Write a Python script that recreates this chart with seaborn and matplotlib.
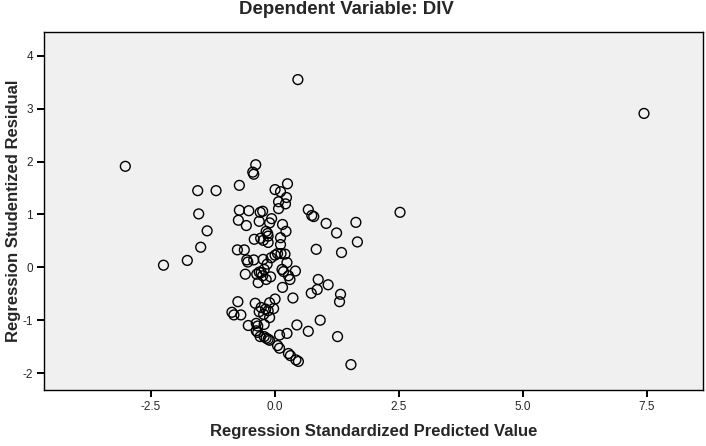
import matplotlib
matplotlib.use("Agg")
import matplotlib.pyplot as plt
import seaborn as sns
import pandas as pd

# values
pred = [
    0.46, 7.44, -3.02, 2.52, -2.25, -1.77, 1.53, -0.39, -0.45, -0.43,
    -0.72, -1.56, -1.19, -1.54, -0.72, -0.53, -0.30, -0.25, -0.74, -0.58,
    -0.32, -1.37, -1.50, -0.42, -0.29, -0.76, -0.62, -0.57, -0.55, -0.43,
    -0.60, -0.37, -0.32, -0.34, -0.75, -0.40, -0.32, -0.87, -0.83, -0.69,
    -0.54, -0.38, -0.35, -0.38, -0.35, -0.30, 0.25, 0.00, 0.11, 0.07,
    0.23, 0.21, 0.07, 0.67, 0.74, 0.78, -0.07, 1.03, 1.63, 0.15,
    0.22, -0.11, -0.18, -0.15, 1.24, 0.11, -0.24, -0.14, -0.14, 0.11,
    1.66, 0.83, 1.34, -0.24, -0.08, 0.00, 0.05, 0.12, 0.20, 0.24,
    -0.16, 0.14, 0.17, 0.41, -0.28, -0.22, -0.25, -0.09, -0.18, 0.27,
    0.30, 0.87, 1.07, 0.85, 0.73, 1.32, 1.30, 0.15, 0.36, 0.00,
    -0.11, -0.28, -0.03, -0.19, -0.14, -0.23, -0.11, 0.91, 0.44, 0.67,
    -0.22, 0.09, 0.24, 1.26, -0.22, -0.18, -0.14, -0.11, 0.05, 0.09,
    0.27, 0.31, 0.42, 0.47,
]
resid = [
    3.55, 2.91, 1.91, 1.04, 0.04, 0.13, -1.84, 1.94, 1.80, 1.76,
    1.55, 1.45, 1.45, 1.01, 1.08, 1.07, 1.04, 1.06, 0.89, 0.79,
    0.87, 0.69, 0.38, 0.53, 0.55, 0.33, 0.33, 0.14, 0.10, 0.14,
    -0.13, -0.13, -0.09, -0.29, -0.65, -0.68, -0.84, -0.85, -0.90, -0.90,
    -1.10, -1.06, -1.11, -1.20, -1.23, -1.31, 1.58, 1.47, 1.43, 1.24,
    1.32, 1.20, 1.11, 1.09, 0.98, 0.96, 0.92, 0.83, 0.85, 0.81,
    0.68, 0.84, 0.68, 0.64, 0.65, 0.56, 0.51, 0.59, 0.47, 0.43,
    0.48, 0.34, 0.28, 0.15, 0.18, 0.23, 0.26, 0.26, 0.25, 0.09,
    0.06, -0.04, -0.08, -0.07, -0.10, -0.04, -0.16, -0.18, -0.23, -0.16,
    -0.23, -0.23, -0.33, -0.42, -0.49, -0.51, -0.65, -0.38, -0.58, -0.60,
    -0.67, -0.76, -0.78, -0.79, -0.82, -0.89, -0.95, -1.00, -1.09, -1.21,
    -1.08, -1.28, -1.25, -1.31, -1.31, -1.34, -1.36, -1.38, -1.48, -1.53,
    -1.63, -1.67, -1.75, -1.78,
]
x_ticks = [-2.5, 0.0, 2.5, 5.0, 7.5]
x_tick_labels = ["-2.5", "0.0", "2.5", "5.0", "7.5"]
y_ticks = [-2, -1, 0, 1, 2, 3, 4]

df = pd.DataFrame({"pred": pred, "resid": resid})

sns.set_style("white")
plt.rcParams["font.family"] = ["Liberation Sans", "DejaVu Sans"]
plt.rcParams["axes.unicode_minus"] = False

fig = plt.figure(figsize=(7.06, 4.46), dpi=100)
# plot box: left 44px, right 703px, top 32px, bottom 390px
ax = fig.add_axes([44 / 706, 1 - 390 / 446, 659 / 706, 358 / 446])
ax.set_facecolor("#f0f0f0")

sns.scatterplot(data=df, x="pred", y="resid", ax=ax, s=50,
                facecolor="none", edgecolor="black", linewidth=1.0)

ax.set_xlim(-4.66, 8.63)
ax.set_ylim(-2.32, 4.45)
ax.set_xticks(x_ticks)
ax.set_xticklabels(x_tick_labels)
ax.set_yticks(y_ticks)
ax.tick_params(axis="both", direction="out", length=5, width=1.4,
               color="black", labelsize=8.5, bottom=True, left=True, pad=3)
for sp in ax.spines.values():
    sp.set_color("black")
    sp.set_linewidth(1.0)

ax.set_xlabel("Regression Standardized Predicted Value", fontsize=12,
              fontweight="bold", labelpad=8)
ax.set_ylabel("Regression Studentized Residual", fontsize=12,
              fontweight="bold")
ax.yaxis.set_label_coords(-23 / 659, 0.5)
fig.text(346 / 706, 1 - 10 / 446, "Dependent Variable: DIV", ha="center",
         va="center", fontsize=13.4, fontweight="bold")

fig.savefig("out.png", dpi=100)
